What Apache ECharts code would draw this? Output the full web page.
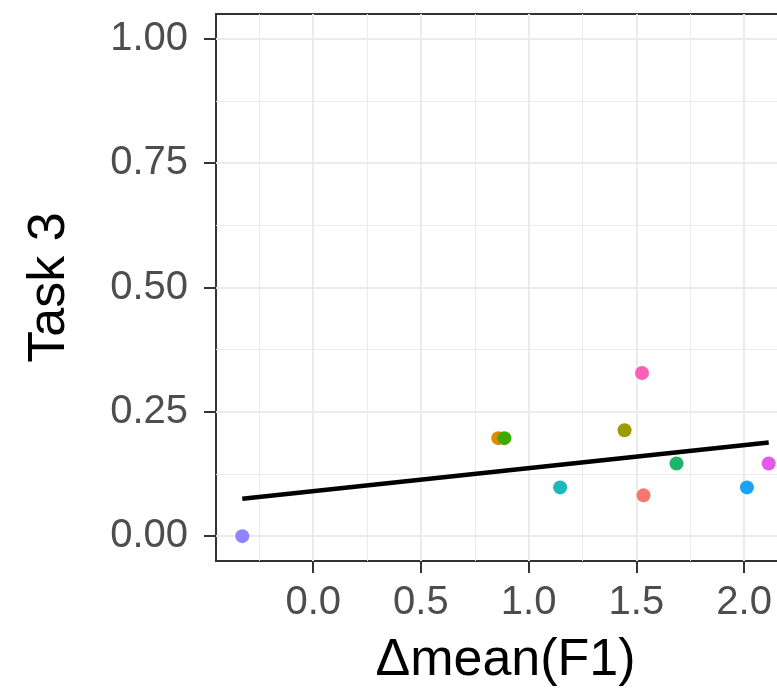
<!DOCTYPE html>
<html lang="en">
<head>
    <meta charset="UTF-8">
    <title>Task 3</title>
    <script src="https://cdn.jsdelivr.net/npm/echarts@6/dist/echarts.min.js"></script>
</head>
<style>
html,body{margin:0;padding:0;background-color:#ffffff}
#chartBox{width:777px;height:689px}
</style>
<body>
    <div id="chartBox"></div>
</body>
<script>
// data
const pointX = [-0.329, 0.859, 0.887, 1.146, 1.445, 1.526, 1.533, 1.686, 2.013, 2.114];
const pointY = [0.000, 0.197, 0.197, 0.098, 0.213, 0.328, 0.082, 0.146, 0.098, 0.146];
const pointColors = ['#8D84FF', '#E18A00', '#3DAA00', '#1CB8BD', '#9D9B00', '#FB5FB6', '#F8766D', '#1DB56E', '#1AA2F5', '#E458EB'];
const fitX = [-0.329, 2.114];
const fitY = [0.075, 0.1885];
const xTicks = [0, 0.5, 1, 1.5, 2];
const xMinor = [-0.25, 0.25, 0.75, 1.25, 1.75];
const yTicks = [0, 0.25, 0.5, 0.75, 1];
const yMinor = [0.125, 0.375, 0.625, 0.875];

const FONT = 'Liberation Sans, Arial, sans-serif';
const GRID_COLOR = '#EBEBEB';

// axis with ticks, labels and major grid lines
function majorAxis(ticks, digits, extra){
    return Object.assign({
        type: 'value',
        axisLine: {show: false, onZero: false},
        axisTick: {show: true, customValues: ticks, length: 12, lineStyle: {color: '#333333', width: 2}},
        axisLabel: {customValues: ticks, formatter: v => Number(v).toFixed(digits), fontSize: 40, color: '#4D4D4D', fontFamily: FONT},
        splitLine: {show: true, lineStyle: {color: GRID_COLOR, width: 2}}
    }, extra);
}
// invisible axis that only draws the minor grid lines
function minorAxis(ticks, extra){
    return Object.assign({
        type: 'value',
        axisLine: {show: false, onZero: false},
        axisTick: {show: false, customValues: ticks},
        axisLabel: {show: false},
        splitLine: {show: true, lineStyle: {color: GRID_COLOR, width: 1}}
    }, extra);
}

let chartObj = echarts.init(document.getElementById('chartBox'));
let option = {
    animation: false,
    grid: {
        left: 216, top: 14, right: -18, bottom: 128,
        outerBoundsMode: 'none',
        containLabel: false,
        show: true,
        borderColor: '#333333',
        borderWidth: 2,
        backgroundColor: 'transparent'
    },
    xAxis: [
        majorAxis(xTicks, 1, {
            position: 'bottom',
            min: -0.451, max: 2.236,
            axisLabel: {customValues: xTicks, formatter: v => Number(v).toFixed(1), fontSize: 40, color: '#4D4D4D', fontFamily: FONT, margin: 22},
            name: 'Δmean(F1)', nameLocation: 'middle', nameGap: 74,
            nameTextStyle: {fontSize: 52, color: '#000000', fontFamily: FONT}
        }),
        minorAxis(xMinor, {position: 'bottom', min: -0.451, max: 2.236})
    ],
    yAxis: [
        majorAxis(yTicks, 2, {
            position: 'left',
            min: -0.05, max: 1.05,
            axisLabel: {customValues: yTicks, formatter: v => Number(v).toFixed(2), fontSize: 40, color: '#4D4D4D', fontFamily: FONT, margin: 28},
            name: 'Task 3', nameLocation: 'middle', nameGap: 140,
            nameTextStyle: {fontSize: 52, color: '#000000', fontFamily: FONT}
        }),
        minorAxis(yMinor, {position: 'left', min: -0.05, max: 1.05})
    ],
    series: [
        {
            type: 'line',
            xAxisIndex: 0, yAxisIndex: 0,
            symbol: 'none',
            lineStyle: {color: '#000000', width: 4.5},
            data: fitX.map((x, i) => [x, fitY[i]]),
            z: 3
        },
        {
            type: 'scatter',
            xAxisIndex: 0, yAxisIndex: 0,
            symbolSize: 14,
            data: pointX.map((x, i) => ({value: [x, pointY[i]], itemStyle: {color: pointColors[i], opacity: 1}})),
            z: 4
        }
    ]
};
chartObj.setOption(option);
</script>
</html>
